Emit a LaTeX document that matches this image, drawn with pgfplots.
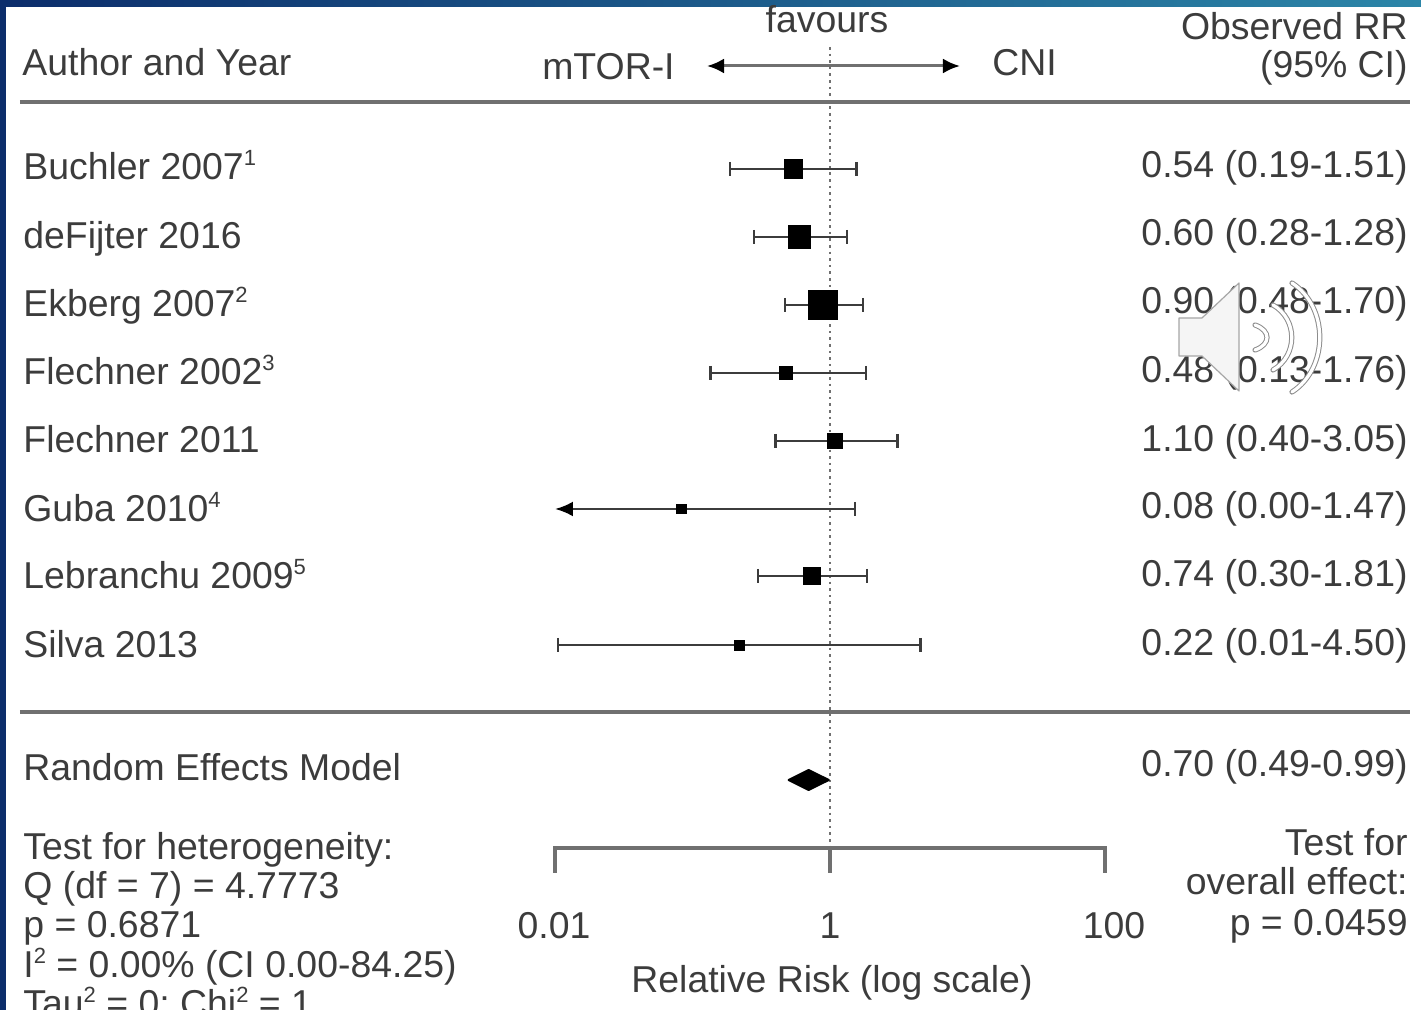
\documentclass[border=0pt]{standalone}
\usepackage{fontspec}
\setmainfont{Liberation Sans}
\usepackage{pgfplots}
\pgfplotsset{compat=1.18}
\usetikzlibrary{arrows.meta}
\definecolor{txt}{HTML}{3C3C3C}
\definecolor{rule}{HTML}{707070}
\definecolor{barA}{HTML}{0C2D6B}
\definecolor{barB}{HTML}{2C86A8}
\newcommand{\sups}[1]{\raisebox{0.72ex}{\fontsize{11}{11}\selectfont #1}}
% study: lower, upper, point, y, box half-size (pt)
\newcommand{\study}[5]{%
  \addplot[line width=1.35pt,color=txt,mark=|,mark size=3.6pt,mark options={solid,line width=1.35pt,color=txt}]
    coordinates {(#1,#4)(#2,#4)};
  \addplot[only marks,mark=square*,mark size=#5,mark options={fill=black,draw=black}]
    coordinates {(#3,#4)};
}
\begin{document}
\begin{tikzpicture}
\useasboundingbox (0,0) rectangle (710.5pt,505pt);
\clip (0,0) rectangle (710.5pt,505pt);
\begin{axis}[
  at={(0,0)},anchor=south west,
  scale only axis,width=710.5pt,height=505pt,
  hide axis,
  xmode=log,
  xmin=9.197e-7,xmax=19869,
  ymin=0,ymax=1010,y dir=reverse,
  clip=false,
]
% header and divider rules
\addplot[line width=1.9pt,color=rule] coordinates {(1.285e-6,102)(16520,102)};
\addplot[line width=1.9pt,color=rule] coordinates {(1.285e-6,712)(16520,712)};
% reference line
\addplot[line width=1.3pt,color=rule,dotted] coordinates {(1,47)(1,848)};
% favours arrow
\addplot[line width=1.5pt,color=rule,{Latex[black,length=8.5pt,width=7.5pt]}-{Latex[black,length=8.5pt,width=7.5pt]}]
  coordinates {(0.1275,66)(8.82,66)};
% studies
\study{0.187}{1.55}{0.54}{169}{4.6pt}
\study{0.28}{1.33}{0.60}{237}{5.6pt}
\study{0.47}{1.74}{0.89}{305}{7.4pt}
\study{0.135}{1.83}{0.48}{373}{3.2pt}
\study{0.40}{3.10}{1.08}{441}{3.8pt}
\addplot[line width=1.35pt,color=txt,mark=|,mark indices={2},mark size=3.6pt,mark options={solid,line width=1.35pt,color=txt},{Latex[black,length=9pt,width=7.5pt]}-]
  coordinates {(0.0100,509)(1.52,509)};
\addplot[only marks,mark=square*,mark size=2.4pt,mark options={fill=black,draw=black}] coordinates {(0.083,509)};
\study{0.30}{1.86}{0.74}{576}{4.4pt}
\study{0.0105}{4.55}{0.22}{645}{2.5pt}
% pooled diamond
\addplot[fill=black,draw=black,line width=1pt,line join=round] coordinates {(0.50,780)(0.70,770)(0.98,780)(0.70,790)} -- cycle;
% relative risk scale
\addplot[line width=1.6pt,color=rule] coordinates {(0.01,873)(0.01,848)(100,848)(100,873)};
\addplot[line width=1.6pt,color=rule] coordinates {(1,848)(1,873)};
\end{axis}
\begin{scope}[x=0.5pt,y=-0.5pt,shift={(0,505pt)}]
  % slide frame
  \shade[left color=barA,right color=barB] (0,0) rectangle (1421,7);
  \fill[barA] (0,0) rectangle (6,1010);
  \tikzset{every node/.style={text=txt,inner sep=0pt,font=\fontsize{18.7}{20}\selectfont}}
  \node[anchor=base west] at (22,76) {Author and Year};
  \node[anchor=base] at (827,33) {favours};
  \node[anchor=base east] at (675,80) {mTOR-I};
  \node[anchor=base west] at (992,76) {CNI};
  \node[anchor=base east] at (1408,40) {Observed RR};
  \node[anchor=base east] at (1408,78) {(95\% CI)};
  \node[anchor=base west] at (23,180) {Buchler 2007\sups{1}};
  \node[anchor=base west] at (23,249) {deFijter 2016};
  \node[anchor=base west] at (23,317) {Ekberg 2007\sups{2}};
  \node[anchor=base west] at (23,385) {Flechner 2002\sups{3}};
  \node[anchor=base west] at (23,453) {Flechner 2011};
  \node[anchor=base west] at (23,522) {Guba 2010\sups{4}};
  \node[anchor=base west] at (23,589) {Lebranchu 2009\sups{5}};
  \node[anchor=base west] at (23,658) {Silva 2013};
  \node[anchor=base east] at (1408,178) {0.54 (0.19-1.51)};
  \node[anchor=base east] at (1408,246) {0.60 (0.28-1.28)};
  \node[anchor=base east] at (1408,314) {0.90 (0.48-1.70)};
  \node[anchor=base east] at (1408,383) {0.48 (0.13-1.76)};
  \node[anchor=base east] at (1408,452) {1.10 (0.40-3.05)};
  \node[anchor=base east] at (1408,519) {0.08 (0.00-1.47)};
  \node[anchor=base east] at (1408,587) {0.74 (0.30-1.81)};
  \node[anchor=base east] at (1408,656) {0.22 (0.01-4.50)};
  \node[anchor=base west] at (23,781) {Random Effects Model};
  \node[anchor=base east] at (1408,777) {0.70 (0.49-0.99)};
  \node[anchor=base west] at (23,860) {Test for heterogeneity:};
  \node[anchor=base west] at (23,899) {Q (df = 7) = 4.7773};
  \node[anchor=base west] at (23,938) {p = 0.6871};
  \node[anchor=base west] at (23,978) {I\sups{2} = 0.00\% (CI 0.00-84.25)};
  \node[anchor=base west] at (23,1017) {Tau\sups{2} = 0; Chi\sups{2} = 1};
  \node[anchor=base east] at (1408,856) {Test for};
  \node[anchor=base east] at (1408,895) {overall effect:};
  \node[anchor=base east] at (1408,936) {p = 0.0459};
  \node[anchor=base] at (554,939) {0.01};
  \node[anchor=base] at (830,939) {1};
  \node[anchor=base] at (1114,939) {100};
  \node[anchor=base] at (832,993) {Relative Risk (log scale)};
  % speaker icon overlay
  \filldraw[fill=white!96!black,draw=black!35,line width=0.6pt,line join=round]
    (1179,318) -- (1202,318) -- (1239,283) -- (1239,391) -- (1202,356) -- (1179,356) -- cycle;
  \foreach \sx/\a/\b/\cx in {1255/325/350/1271,1273/305/370/1298,1292/283/392/1329}{
    \pgfmathsetmacro{\ca}{\a+(\b-\a)*0.22}
    \pgfmathsetmacro{\cb}{\b-(\b-\a)*0.22}
    \draw[line width=2.6pt,draw=black!45,line cap=round] (\sx,\a) .. controls (\cx,\ca) and (\cx,\cb) .. (\sx,\b);
    \draw[line width=1.6pt,draw=white,line cap=round] (\sx,\a) .. controls (\cx,\ca) and (\cx,\cb) .. (\sx,\b);
  }
\end{scope}
\end{tikzpicture}
\end{document}
